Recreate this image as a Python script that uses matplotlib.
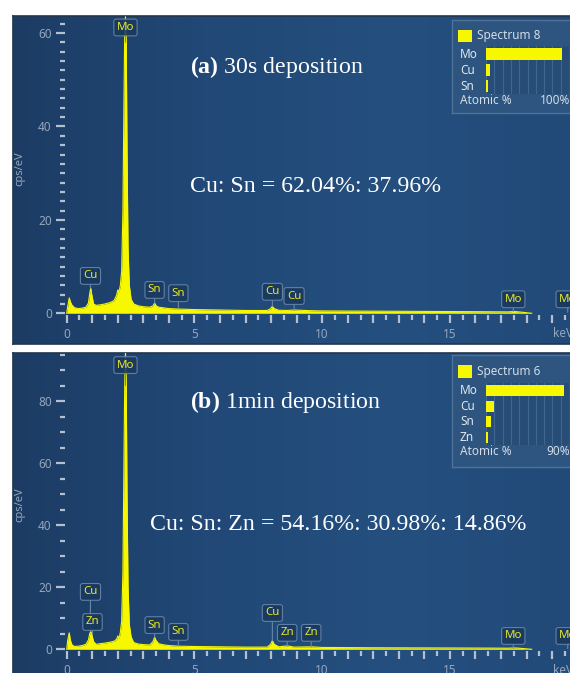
import matplotlib.pyplot as plt
import numpy as np
from matplotlib.colors import LinearSegmentedColormap
from matplotlib.patches import Rectangle
from matplotlib.ticker import FixedLocator, FuncFormatter

plt.rcParams["font.family"] = ["Noto Sans", "DejaVu Sans"]
plt.rcParams["mathtext.fontset"] = "custom"
plt.rcParams["mathtext.rm"] = "Liberation Serif"
plt.rcParams["mathtext.bf"] = "Liberation Serif:bold"

W, H = 570, 673

# spectra (keV, cps/eV)
energy_kev = [
    0.00, 0.04, 0.10, 0.14, 0.20, 0.30, 0.45, 0.60, 0.75, 0.85,
    0.90, 0.94, 0.98, 1.05, 1.15, 1.30, 1.50, 1.70, 1.85, 1.95,
    2.00, 2.05, 2.10, 2.15, 2.20, 2.24, 2.27, 2.30, 2.33, 2.36,
    2.40, 2.45, 2.52, 2.62, 2.80, 3.00, 3.25, 3.38, 3.44, 3.50,
    3.60, 3.75, 4.00, 4.40, 5.00, 6.00, 7.00, 7.85, 7.98, 8.05,
    8.12, 8.30, 8.63, 8.90, 9.57, 10.0, 12.0, 14.0, 16.0, 17.3,
    17.5, 17.7, 18.2,
]
counts_30s = [
    0.0, 1.5, 3.3, 2.5, 1.8, 1.2, 1.0, 1.1, 1.3, 2.2,
    4.2, 5.4, 4.0, 2.0, 1.7, 1.8, 2.0, 2.3, 2.7, 3.8,
    5.0, 4.6, 6.0, 9.0, 22.0, 45.0, 60.0, 63.5, 58.0, 35.0,
    14.0, 6.0, 3.0, 2.0, 1.6, 1.4, 1.3, 1.6, 2.2, 1.6,
    1.3, 1.2, 1.0, 0.9, 0.8, 0.7, 0.6, 0.6, 1.0, 1.5,
    1.0, 0.65, 0.6, 0.7, 0.55, 0.5, 0.45, 0.4, 0.35, 0.3,
    0.4, 0.3, 0.0,
]
counts_1min = [
    0.0, 3.0, 5.3, 3.0, 1.5, 0.9, 1.0, 1.2, 1.6, 3.0,
    5.0, 5.8, 4.8, 2.5, 1.6, 1.8, 2.0, 2.3, 2.6, 3.2,
    4.3, 3.5, 5.5, 9.0, 25.0, 60.0, 85.0, 96.0, 85.0, 50.0,
    20.0, 8.0, 4.0, 2.2, 1.7, 1.5, 1.4, 2.5, 3.9, 2.8,
    1.8, 1.5, 1.2, 1.0, 0.9, 0.8, 0.7, 0.7, 1.6, 2.8,
    1.6, 0.8, 1.1, 0.7, 0.8, 0.6, 0.5, 0.45, 0.4, 0.35,
    0.45, 0.35, 0.0,
]

# peak markers: name, energy, tip height, label height
peaks_30s_names = ["Mo", "Cu", "Sn", "Sn", "Cu", "Cu", "Mo", "Mo"]
peaks_30s_kev = [2.30, 0.93, 3.44, 4.37, 8.05, 8.90, 17.48, 19.61]
peaks_30s_tip = [58.0, 5.4, 2.2, 1.2, 1.5, 0.7, 0.4, 0.2]
peaks_30s_box = [61.2, 8.0, 5.0, 4.3, 4.6, 3.7, 3.0, 3.0]

peaks_1min_names = ["Mo", "Cu", "Zn", "Sn", "Sn", "Cu", "Zn", "Zn", "Mo", "Mo"]
peaks_1min_kev = [2.30, 0.93, 1.01, 3.44, 4.37, 8.05, 8.63, 9.57, 17.48, 19.61]
peaks_1min_tip = [85.0, 5.8, 5.0, 3.9, 1.2, 2.8, 1.1, 0.8, 0.4, 0.2]
peaks_1min_box = [91.6, 18.5, 8.8, 7.8, 5.6, 11.7, 5.3, 5.3, 4.3, 4.3]

# atomic % panels
comp_30s_names = ["Mo", "Cu", "Sn"]
comp_30s_values = [92.0, 5.0, 3.0]
comp_1min_names = ["Mo", "Cu", "Sn", "Zn"]
comp_1min_values = [84.1, 8.6, 4.9, 2.4]

YELLOW = "#f7f700"
LABEL_YELLOW = "#e8e82a"
TICK = "#b4c0d0"
TICK_LABEL = "#94a6bd"
UI_SIZE = 8.5
BG_CMAP = LinearSegmentedColormap.from_list(
    "eds_bg", ["#1c3c64", "#214876", "#244f7e", "#224a79"])


def px_box(x0, y0, x1, y1):
    return [x0 / W, 1 - y1 / H, (x1 - x0) / W, (y1 - y0) / H]


def spectrum_panel(fig, frame_px, axes_px, ylim, y_major, y_minor, counts,
                   names, kev, tips, boxes):
    frame = fig.add_axes(px_box(*frame_px))
    frame.imshow(np.linspace(0, 1, 256)[None, :], cmap=BG_CMAP,
                 extent=(0, 1, 0, 1), aspect="auto")
    frame.set_xticks([])
    frame.set_yticks([])
    for sp in frame.spines.values():
        sp.set_color("#24354b")
        sp.set_linewidth(1.2)

    ax = fig.add_axes(px_box(*axes_px))
    ax.patch.set_alpha(0)
    for sp in ax.spines.values():
        sp.set_visible(False)

    ax.fill_between(energy_kev, counts, color=YELLOW, lw=0, zorder=2)
    ax.plot(energy_kev, counts, color=YELLOW, lw=0.8, zorder=2)
    ax.set_xlim(-0.067, 19.70)
    ax.set_ylim(*ylim)

    for name, e, tip, box in zip(names, kev, tips, boxes):
        ax.annotate(
            name, xy=(e, tip), xytext=(e, box), ha="center", va="center",
            fontsize=8.3, color=LABEL_YELLOW, zorder=5, annotation_clip=False,
            bbox=dict(boxstyle="round,pad=0.25,rounding_size=0.2",
                      fc="#1a395e", ec="#6786ab", lw=0.8, alpha=0.9),
            arrowprops=dict(arrowstyle="-", color="#6786ab", lw=0.8,
                            shrinkA=0, shrinkB=0),
        )

    ax.yaxis.set_major_locator(FixedLocator(y_major))
    ax.yaxis.set_minor_locator(FixedLocator(y_minor))
    ax.xaxis.set_major_locator(FixedLocator(range(0, 20)))
    ax.xaxis.set_minor_locator(FixedLocator([i + 0.5 for i in range(20)]))
    ax.xaxis.set_major_formatter(
        FuncFormatter(lambda v, p: f"{v:.0f}" if round(v) % 5 == 0 else ""))
    ax.tick_params(which="both", direction="out", colors=TICK,
                   labelcolor=TICK_LABEL, labelsize=UI_SIZE, width=1.6)
    ax.tick_params(axis="y", which="major", length=6.5, pad=3.0)
    ax.tick_params(axis="y", which="minor", length=3.5)
    ax.tick_params(axis="x", which="major", length=6.0, pad=3.5)
    ax.tick_params(axis="x", which="minor", length=3.3)
    for t in ax.xaxis.get_major_ticks():
        if round(t.get_loc()) % 5:
            t.tick1line.set_markersize(4.3)

    ax.set_ylabel("cps/eV", color=TICK_LABEL, fontsize=8)
    ax.yaxis.set_label_coords(-0.079, 0.49)
    ax.annotate("keV", xy=(19.05, 0), xycoords=("data", "axes fraction"),
                xytext=(0, -14), textcoords="offset points", va="center",
                fontsize=UI_SIZE, color=TICK_LABEL, annotation_clip=False)
    return ax


def composition_box(fig, box_px, title, names, values, scale_max, scale_text,
                    row_top, row_step):
    x0, y0, x1, y1 = box_px
    lg = fig.add_axes(px_box(x0, y0, x1, y1))
    lg.set_xlim(x0, x1)
    lg.set_ylim(y1, y0)
    lg.set_facecolor("#2d557f")
    lg.set_xticks([])
    lg.set_yticks([])
    for sp in lg.spines.values():
        sp.set_color("#4e7299")
        sp.set_linewidth(1.0)
    lg.add_patch(Rectangle((458, y0 + 10), 14, 12.5, fc=YELLOW, ec="none"))
    lg.text(477, y0 + 16, title, va="center", fontsize=UI_SIZE, color="#d3dce8")
    for i, name in enumerate(names):
        lg.text(460, row_top + row_step * (i + 0.5), name, va="center",
                fontsize=UI_SIZE, color="#dfe6ee")
    y_atomic = row_top + row_step * len(names) + 7
    lg.text(460, y_atomic, "Atomic %", va="center", fontsize=UI_SIZE,
            color="#d3dce8")
    lg.text(570, y_atomic, scale_text, va="center", ha="right",
            fontsize=UI_SIZE, color="#d3dce8")

    bars = fig.add_axes(px_box(486, row_top, 569, row_top + row_step * len(names)))
    bars.set_facecolor("#274c76")
    bars.barh(range(len(names)), values, height=0.7, color=YELLOW, zorder=3)
    bars.set_xlim(0, scale_max)
    bars.set_ylim(len(names) - 0.5, -0.5)
    bars.set_xticks(np.linspace(0, scale_max, 11))
    bars.set_yticks([])
    bars.tick_params(length=0, labelbottom=False)
    bars.grid(axis="x", color="#3d6690", lw=0.8)
    for sp in bars.spines.values():
        sp.set_visible(False)


fig = plt.figure(figsize=(W / 100, H / 100), dpi=100)
fig.patch.set_facecolor("white")

spectrum_panel(fig, (13, 16, 580, 344), (65, 16, 570, 314.5), (-0.26, 63.66),
               [0, 20, 40, 60], list(range(2, 64, 2)), counts_30s,
               peaks_30s_names, peaks_30s_kev, peaks_30s_tip, peaks_30s_box)
spectrum_panel(fig, (13, 353, 580, 690), (65, 353, 570, 651), (-0.55, 95.5),
               [0, 20, 40, 60, 80], list(range(5, 96, 5)), counts_1min,
               peaks_1min_names, peaks_1min_kev, peaks_1min_tip, peaks_1min_box)

composition_box(fig, (452, 20, 580, 113), "Spectrum 8", comp_30s_names,
                comp_30s_values, 100, "100%", 46, 16)
composition_box(fig, (452, 355, 580, 467), "Spectrum 6", comp_1min_names,
                comp_1min_values, 90, "90%", 383, 15.5)

serif = dict(color="white", fontsize=17.2, va="center", family="Liberation Serif")
fig.text(190 / W, 1 - 67 / H, r"$\mathbf{(a)}$ 30s deposition", **serif)
fig.text(190 / W, 1 - 186 / H, "Cu: Sn = 62.04%: 37.96%", **serif)
fig.text(190 / W, 1 - 402 / H, r"$\mathbf{(b)}$ 1min deposition", **serif)
fig.text(150 / W, 1 - 524 / H, "Cu: Sn: Zn = 54.16%: 30.98%: 14.86%", **serif)

fig.savefig("out.png", dpi=100)
